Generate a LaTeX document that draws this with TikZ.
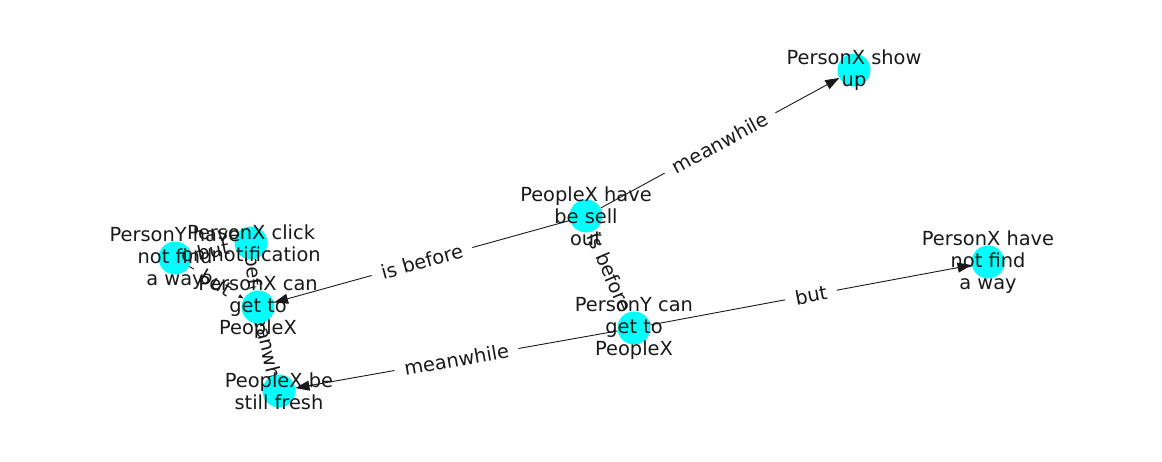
\documentclass[tikz,border=0pt]{standalone}
\usepackage{fontspec}
\setmainfont{DejaVu Sans}
\usetikzlibrary{arrows.meta}
\definecolor{nodecyan}{HTML}{00FFFF}
\pgfdeclarelayer{bg}
\pgfsetlayers{bg,main}
\begin{document}
\begin{tikzpicture}[x=1pt,y=-1pt,
  vert/.style={circle, fill=nodecyan, draw=none, minimum size=33pt, inner sep=0pt},
  txt/.style={align=center, font=\fontsize{19.4}{22}\selectfont, inner sep=0pt, text=black!90},
  conn/.style={draw=black!90, line width=0.9pt, -{Triangle[length=14pt,width=10pt]}},
  elab/.style={fill=white, rounded corners=4pt, inner xsep=10pt, inner ysep=3pt,
    font=\fontsize{19.4}{22}\selectfont, text=black!90, sloped, midway}]
\useasboundingbox (0,0) rectangle (1162,462);
% node circles
\node[vert] (A) at (854,70) {};
\node[vert] (B) at (586,216) {};
\node[vert] (C) at (251,243) {};
\node[vert] (D) at (175,258) {};
\node[vert] (E) at (258,307) {};
\node[vert] (F) at (634,328) {};
\node[vert] (G) at (279,391) {};
\node[vert] (H) at (988,262) {};
% connectors and their labels
\begin{pgfonlayer}{bg}
\draw[conn] (B) -- (A);
\draw[conn] (B) -- (E);
\draw[conn] (B) -- (F);
\draw[conn] (F) -- (G);
\draw[conn] (F) -- (H);
\draw[conn] (D) -- (C);
\draw[conn] (D) -- (E);
\draw[conn] (C) -- (E);
\draw[conn] (E) -- (G);
\path (B) -- (A) node[elab] (lBA) {meanwhile};
\path (B) -- (E) node[elab] (lBE) {is before};
\path (B) -- (F) node[elab] (lBF) {is before};
\path (F) -- (G) node[elab] (lFG) {meanwhile};
\path (F) -- (H) node[elab] (lFH) {but};
\path (D) -- (C) node[elab] (lDC) {but};
\path (D) -- (E) node[elab] (lDE) {but};
\path (C) -- (E) node[elab] (lCE) {is before};
\path (E) -- (G) node[elab] (lEG) {meanwhile};
\end{pgfonlayer}
% node texts
\node[txt] (tA) at (A) {PersonX show\\up};
\node[txt] (tB) at (B) {PeopleX have\\be sell\\out};
\node[txt] (tC) at (C) {PersonX click\\on notification};
\node[txt] (tD) at (D) {PersonY have\\not find\\a way};
\node[txt] (tE) at (E) {PersonX can\\get to\\PeopleX};
\node[txt] (tF) at (F) {PersonY can\\get to\\PeopleX};
\node[txt] (tG) at (G) {PeopleX be\\still fresh};
\node[txt] (tH) at (H) {PersonX have\\not find\\a way};
\end{tikzpicture}
\end{document}
